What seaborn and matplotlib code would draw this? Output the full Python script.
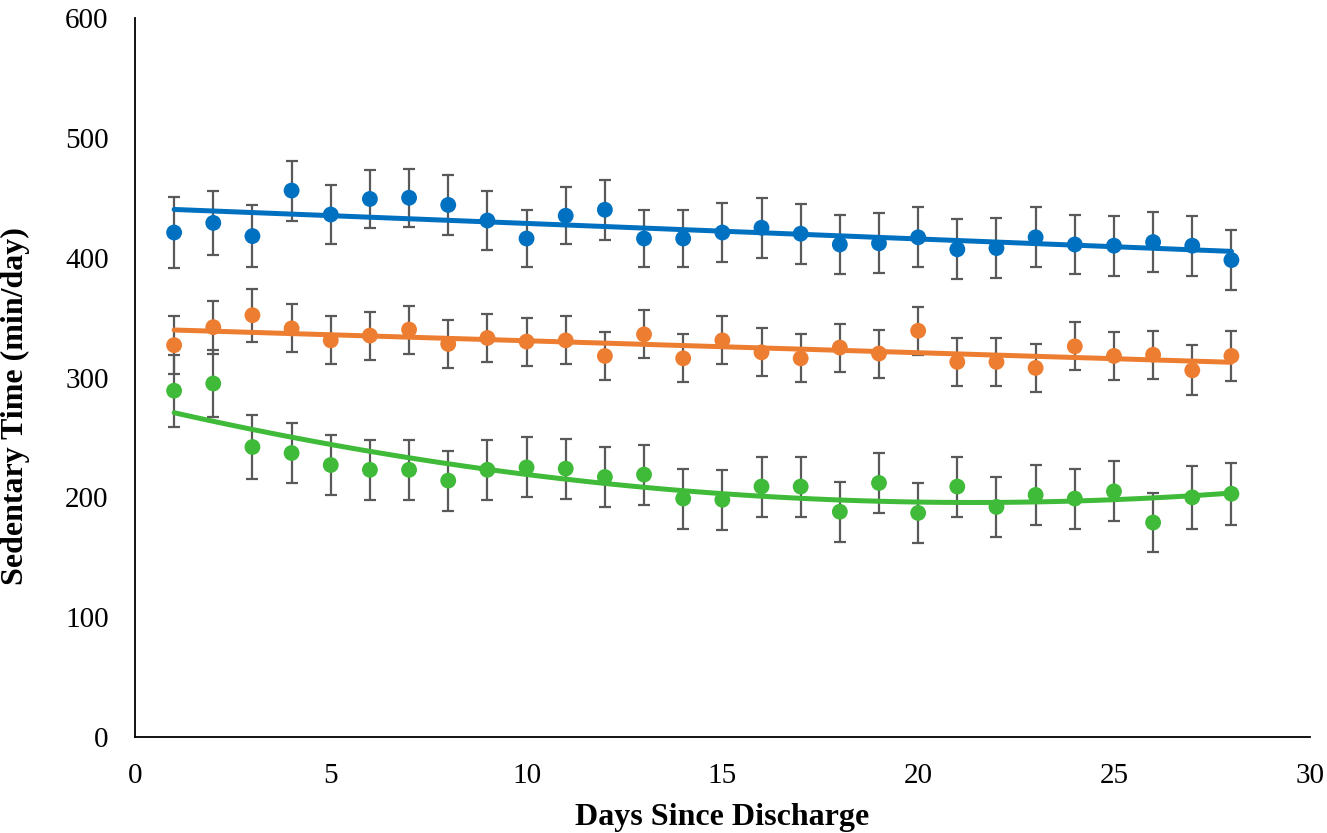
import matplotlib
matplotlib.use("Agg")
import matplotlib.pyplot as plt
import numpy as np
import pandas as pd
import seaborn as sns

days = list(range(1, 29))

group_a_mean = [421, 429, 418, 456, 436, 449, 450, 444, 431, 416, 435, 440, 416, 416,
                421, 425, 420, 411, 412, 417, 407, 408, 417, 411, 410, 413, 410, 398]
group_a_err = [30, 27, 26, 25, 25, 24, 24, 25, 25, 24, 24, 25, 24, 24,
               25, 25, 25, 25, 25, 25, 25, 25, 25, 25, 25, 25, 25, 25]

group_b_mean = [327, 342, 352, 341, 331, 335, 340, 328, 333, 330, 331, 318, 336, 316,
                331, 321, 316, 325, 320, 339, 313, 313, 308, 326, 318, 319, 306, 318]
group_b_err = [24, 22, 22, 20, 20, 20, 20, 20, 20, 20, 20, 20, 20, 20,
               20, 20, 20, 20, 20, 20, 20, 20, 20, 20, 20, 20, 21, 21]

group_c_mean = [289, 295, 242, 237, 227, 223, 223, 214, 223, 225, 224, 217, 219, 199,
                198, 209, 209, 188, 212, 187, 209, 192, 202, 199, 205, 179, 200, 203]
group_c_err = [30, 28, 27, 25, 25, 25, 25, 25, 25, 25, 25, 25, 25, 25,
               25, 25, 25, 25, 25, 25, 25, 25, 25, 25, 25, 25, 26, 26]

series = [
    ("A", group_a_mean, group_a_err, "#0070C0", 1),
    ("B", group_b_mean, group_b_err, "#ED7D31", 1),
    ("C", group_c_mean, group_c_err, "#3FBA39", 2),
]

sns.set_theme(style="white")
plt.rcParams["font.family"] = ["Liberation Serif", "DejaVu Serif"]
plt.rcParams["text.color"] = "black"
plt.rcParams["axes.labelcolor"] = "black"
plt.rcParams["xtick.color"] = "black"
plt.rcParams["ytick.color"] = "black"

fig = plt.figure(figsize=(13.27, 8.33), dpi=100)
ax = fig.add_axes([0.1017, 0.1152, 0.8853, 0.8632])

for name, mean, err, color, order in series:
    df = pd.DataFrame({"day": days, "value": mean, "err": err})
    ax.errorbar(df["day"], df["value"], yerr=df["err"], fmt="none",
                ecolor="#595959", elinewidth=1.6, capsize=4, capthick=1.6, zorder=2)
    sns.scatterplot(data=df, x="day", y="value", color=color, s=130,
                    edgecolor="none", ax=ax, zorder=3)
    sns.regplot(data=df, x="day", y="value", order=order, scatter=False, ci=None,
                truncate=True, color=color, line_kws={"linewidth": 3.6, "zorder": 4},
                ax=ax)

ax.set_xlim(0, 30)
ax.set_ylim(0, 600)
ax.set_xticks(range(0, 31, 5))
ax.set_yticks(range(0, 601, 100))
ax.tick_params(axis="both", length=0, labelsize=21, pad=19)
for side in ["top", "right"]:
    ax.spines[side].set_visible(False)
for side in ["left", "bottom"]:
    ax.spines[side].set_color("black")
    ax.spines[side].set_linewidth(1.3)

ax.set_xlabel("Days Since Discharge", fontsize=23, fontweight="bold")
ax.set_ylabel("Sedentary Time (min/day)", fontsize=23, fontweight="bold")
ax.xaxis.set_label_coords(0.5, -0.092)
ax.yaxis.set_label_coords(-0.089, 0.46)

fig.savefig("out.png", dpi=100)
